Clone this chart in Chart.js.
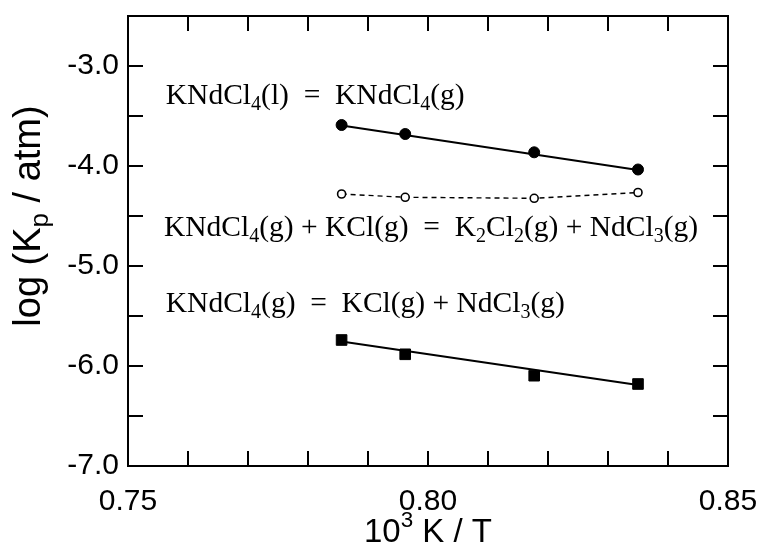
<!DOCTYPE html>
<html>
<head>
<meta charset="utf-8">
<script src="https://cdn.jsdelivr.net/npm/chart.js@4.4.1/dist/chart.umd.min.js"></script>
<style>
  html, body { margin: 0; padding: 0; background: #fff; }
</style>
</head>
<body>
<canvas id="kp" width="757" height="551"></canvas>
<script>
// 10^3 K / T for the four runs
const invT = [0.7856, 0.7962, 0.8177, 0.8350];

// log Kp for each reaction
const logKpSublim = [-3.59, -3.68, -3.863, -4.035];   // KNdCl4(l) = KNdCl4(g)
const logKpExch   = [-4.28, -4.313, -4.323, -4.265];  // KNdCl4(g) + KCl(g) = K2Cl2(g) + NdCl3(g)
const logKpDissoc = [-5.74, -5.883, -6.097, -6.18];   // KNdCl4(g) = KCl(g) + NdCl3(g)

// straight-line fits (end points)
const fitX       = [0.7856, 0.8350];
const fitSublim  = [-3.595, -4.04];
const fitDissoc  = [-5.755, -6.19];

// reaction labels: _x = subscript, ^x = superscript
const labelText = [
  'KNdCl_4(l)  =  KNdCl_4(g)',
  'KNdCl_4(g) + KCl(g)  =  K_2Cl_2(g) + NdCl_3(g)',
  'KNdCl_4(g)  =  KCl(g) + NdCl_3(g)'
];
const labelX = [0.7563, 0.7560, 0.7563];
const labelY = [-3.30, -4.62, -5.38];

const xTitle = '10^3 K / T';
const yTitle = 'log (K_p / atm)';

function pts(xs, ys) {
  return xs.map((x, i) => ({ x: x, y: ys[i] }));
}

function parseRich(s) {
  const parts = [];
  let buf = '';
  for (let i = 0; i < s.length; i++) {
    const c = s[i];
    if ((c === '_' || c === '^') && i + 1 < s.length) {
      if (buf) { parts.push([buf, 0]); buf = ''; }
      parts.push([s[i + 1], c === '_' ? 1 : -1]);
      i++;
    } else {
      buf += c;
    }
  }
  if (buf) parts.push([buf, 0]);
  return parts;
}

function richWidth(ctx, parts, size, family) {
  let w = 0;
  parts.forEach(p => {
    ctx.font = (p[1] ? size * 0.68 : size) + 'px ' + family;
    w += ctx.measureText(p[0]).width;
  });
  return w;
}

function drawRich(ctx, parts, x, y, size, family) {
  let cx = x;
  parts.forEach(p => {
    const fs = p[1] ? size * 0.68 : size;
    ctx.font = fs + 'px ' + family;
    let dy = 0;
    if (p[1] === 1) dy = size * 0.28;
    if (p[1] === -1) dy = -size * 0.36;
    ctx.fillText(p[0], cx, y + dy);
    cx += ctx.measureText(p[0]).width;
  });
}

const SERIF = '"Liberation Serif", "DejaVu Serif", serif';
const SANS = '"Liberation Sans", Arial, sans-serif';

// frame + inward ticks on all four sides
const frameTicks = {
  id: 'frameTicks',
  afterDraw(chart) {
    const ctx = chart.ctx;
    const a = chart.chartArea;
    const xs = chart.scales.x, ys = chart.scales.y;
    const len = 15;
    ctx.save();
    ctx.strokeStyle = '#000';
    ctx.lineWidth = 2;
    ctx.strokeRect(a.left, a.top, a.right - a.left, a.bottom - a.top);
    ctx.beginPath();
    xs.ticks.forEach(t => {
      const px = Math.round(xs.getPixelForValue(t.value));
      ctx.moveTo(px, a.bottom); ctx.lineTo(px, a.bottom - len);
      ctx.moveTo(px, a.top); ctx.lineTo(px, a.top + len);
    });
    ys.ticks.forEach(t => {
      const py = Math.round(ys.getPixelForValue(t.value));
      ctx.moveTo(a.left, py); ctx.lineTo(a.left + len, py);
      ctx.moveTo(a.right, py); ctx.lineTo(a.right - len, py);
    });
    ctx.stroke();
    ctx.restore();
  }
};

// reaction labels and the two axis titles
const textLayer = {
  id: 'textLayer',
  afterDatasetsDraw(chart) {
    const ctx = chart.ctx;
    const a = chart.chartArea;
    const xs = chart.scales.x, ys = chart.scales.y;
    ctx.save();
    ctx.fillStyle = '#000';
    ctx.textBaseline = 'middle';
    ctx.textAlign = 'left';
    labelText.forEach((s, i) => {
      drawRich(ctx, parseRich(s), xs.getPixelForValue(labelX[i]), ys.getPixelForValue(labelY[i]), 29.5, SERIF);
    });

    // x title
    const xp = parseRich(xTitle);
    const xw = richWidth(ctx, xp, 33, SANS);
    drawRich(ctx, xp, (a.left + a.right) / 2 - xw / 2, 533, 33, SANS);

    // y title, rotated
    const yp = parseRich(yTitle);
    const yw = richWidth(ctx, yp, 38, SANS);
    ctx.translate(30, 216);
    ctx.rotate(-Math.PI / 2);
    drawRich(ctx, yp, -yw / 2, 0, 38, SANS);
    ctx.restore();
  }
};

new Chart(document.getElementById('kp'), {
  type: 'scatter',
  data: {
    datasets: [
      {
        label: 'sublimation fit',
        data: pts(fitX, fitSublim),
        showLine: true,
        borderColor: '#000',
        borderWidth: 2,
        pointRadius: 0
      },
      {
        label: 'dissociation fit',
        data: pts(fitX, fitDissoc),
        showLine: true,
        borderColor: '#000',
        borderWidth: 2,
        pointRadius: 0
      },
      {
        label: 'KNdCl4(l) = KNdCl4(g)',
        data: pts(invT, logKpSublim),
        pointStyle: 'circle',
        pointRadius: 5.5,
        backgroundColor: '#000',
        borderColor: '#000',
        borderWidth: 1
      },
      {
        label: 'KNdCl4(g) + KCl(g) = K2Cl2(g) + NdCl3(g)',
        data: pts(invT, logKpExch),
        showLine: true,
        borderColor: '#000',
        borderWidth: 1.4,
        borderDash: [5, 4],
        pointStyle: 'circle',
        pointRadius: 4,
        pointBackgroundColor: '#fff',
        pointBorderColor: '#000',
        pointBorderWidth: 1.6
      },
      {
        label: 'KNdCl4(g) = KCl(g) + NdCl3(g)',
        data: pts(invT, logKpDissoc),
        pointStyle: 'rect',
        pointRadius: 7.5,
        backgroundColor: '#000',
        borderColor: '#000',
        borderWidth: 1
      }
    ]
  },
  options: {
    responsive: false,
    animation: false,
    devicePixelRatio: 1,
    layout: { padding: { left: 0, right: 29, top: 16, bottom: 0 } },
    plugins: {
      legend: { display: false },
      tooltip: { enabled: false }
    },
    scales: {
      x: {
        type: 'linear',
        min: 0.75,
        max: 0.85,
        afterFit(scale) {
          scale.height = 85;
          scale.paddingLeft = 0;
          scale.paddingRight = 0;
        },
        afterBuildTicks(scale) {
          const t = [];
          for (let i = 75; i <= 85; i++) t.push({ value: i / 100 });
          scale.ticks = t;
        },
        grid: { display: false, drawTicks: false },
        border: { display: false },
        ticks: {
          padding: 18,
          color: '#000',
          font: { family: SANS, size: 30 },
          maxRotation: 0,
          autoSkip: false,
          callback(v) {
            const k = Math.round(v * 100);
            return k % 5 === 0 ? (k / 100).toFixed(2) : '';
          }
        }
      },
      y: {
        type: 'linear',
        min: -7,
        max: -2.5,
        afterFit(scale) {
          scale.width = 128;
          scale.paddingTop = 0;
          scale.paddingBottom = 0;
        },
        afterBuildTicks(scale) {
          const t = [];
          for (let i = -14; i <= -5; i++) t.push({ value: i / 2 });
          scale.ticks = t;
        },
        grid: { display: false, drawTicks: false },
        border: { display: false },
        ticks: {
          padding: 9,
          color: '#000',
          font: { family: SANS, size: 30 },
          autoSkip: false,
          callback(v) {
            return Number.isInteger(v) ? v.toFixed(1) : '';
          }
        }
      }
    }
  },
  plugins: [frameTicks, textLayer]
});
</script>
</body>
</html>
